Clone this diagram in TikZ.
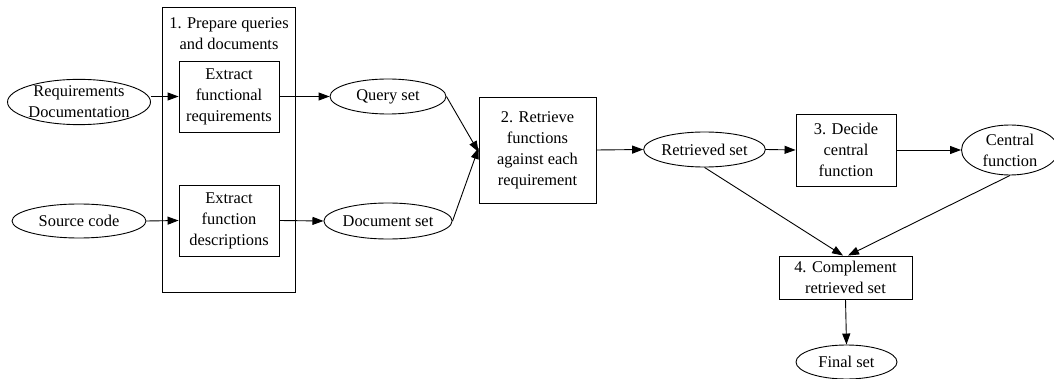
\documentclass[tikz,border=0pt]{standalone}
\usepackage{fontspec}
\setmainfont{Liberation Serif}
\usetikzlibrary{shapes.geometric,arrows.meta}
\tikzset{
  every node/.style={font=\fontsize{16.4}{21}\selectfont, inner sep=0pt, align=center},
  oval/.style={draw, ellipse, line width=0.9pt},
  stepbox/.style={draw, rectangle, line width=0.9pt},
  arr/.style={line width=0.9pt, -{Triangle[length=11pt,width=8pt]}}
}
\begin{document}
\begin{tikzpicture}[x=1pt,y=-1pt]
\useasboundingbox (0,0) rectangle (1054,379);
\begin{scope}
\clip (0,0) rectangle (1054,379);

% inputs
\node[oval, minimum width=134pt, minimum height=41pt] (reqdoc) at (79,102) {Requirements\\Documentation};
\node[oval, minimum width=134pt, minimum height=34pt] (src) at (79,221) {Source code};

% stage 1 container and its two sub-steps
\node[stepbox, minimum width=133pt, minimum height=285pt] (prep) at (228.5,149.5) {};
\node (preptitle) at (229,34) {1. Prepare queries\\and documents};
\node[stepbox, minimum width=100pt, minimum height=71pt] (ex1) at (229,96.5) {Extract\\functional\\requirements};
\node[stepbox, minimum width=100pt, minimum height=71pt] (ex2) at (229,220.5) {Extract\\function\\descriptions};

% intermediate sets
\node[oval, minimum width=116pt, minimum height=35pt] (qset) at (388,96.5) {Query set};
\node[oval, minimum width=116pt, minimum height=36pt] (dset) at (388,221) {Document set};

% stage 2
\node[stepbox, minimum width=117pt, minimum height=106pt] (retr) at (537.5,150) {2. Retrieve\\functions\\against each\\requirement};
\node[oval, minimum width=117pt, minimum height=35pt] (rset) at (704.5,149.5) {Retrieved set};

% stage 3
\node[stepbox, minimum width=100pt, minimum height=72pt] (decide) at (846,150) {3. Decide\\central\\function};
\node[oval, minimum width=97pt, minimum height=50pt] (central) at (1010,150) {Central\\function};

% stage 4
\node[stepbox, minimum width=133pt, minimum height=43pt] (compl) at (845.5,277.5) {4. Complement\\retrieved set};
\node[oval, minimum width=101pt, minimum height=34pt] (final) at (846.5,362) {Final set};

% connectors
\draw[arr] (reqdoc.east |- ex1.west) -- (ex1.west);
\draw[arr] (src.east) -- (ex2.west);
\draw[arr] (ex1.east) -- (qset.west);
\draw[arr] (ex2.east) -- (dset.west);
\draw[arr] (qset.east) -- ([yshift=-2pt]retr.west);
\draw[arr] (dset.east) -- ([yshift=2pt]retr.west);
\draw[arr] (retr.east) -- (rset.west);
\draw[arr] (rset.east) -- (decide.west);
\draw[arr] (decide.east) -- (central.west);
\draw[arr] (rset.south) -- ([xshift=-2.5pt]compl.north);
\draw[arr] (central.south) -- ([xshift=2.5pt]compl.north);
\draw[arr] (compl.south) -- (final.north);
\end{scope}
\end{tikzpicture}
\end{document}
